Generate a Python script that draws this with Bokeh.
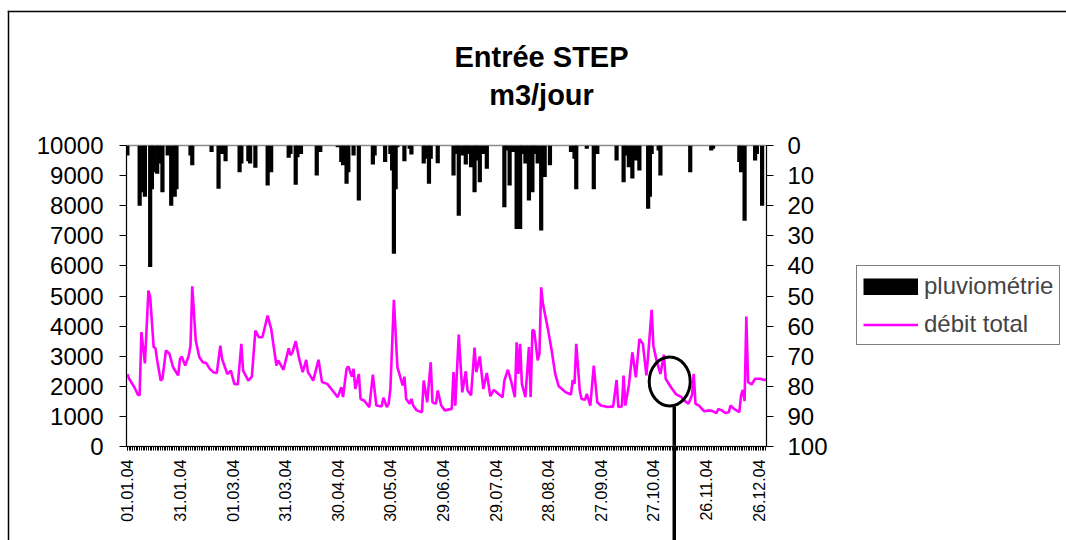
import math
from bokeh.plotting import figure
from bokeh.layouts import column
from bokeh.models import Range1d, LinearAxis, FixedTicker, Legend, LegendItem
from bokeh.core.properties import value
from bokeh.embed import file_html
from bokeh.resources import INLINE

# ---- data (day index from 01.01.2004) ----
flow_days = [0, 1, 4, 6, 7, 8, 10, 12, 13, 15, 16, 17, 19, 20, 22, 24, 26, 29, 30, 31,
             33, 35, 36, 37, 39, 41, 43, 45, 47, 49, 51, 53, 54, 57, 59, 61, 63, 65, 66, 69,
             71, 73, 75, 77, 80, 82, 85, 86, 89, 92, 93, 94, 96, 98, 100, 102, 103, 106, 109, 111,
             114, 117, 120, 122, 123, 125, 126, 128, 129, 130, 132, 133, 135, 138, 140, 142, 145, 146, 148, 149,
             150, 152, 154, 157, 158, 159, 161, 162, 163, 165, 168, 169, 171, 173, 174, 176, 177, 179, 181, 185,
             186, 187, 189, 191, 193, 194, 196, 198, 199, 201, 203, 205, 207, 209, 212, 214, 215, 217, 219, 221,
             222, 223, 224, 225, 227, 229, 230, 231, 232, 234, 235, 236, 237, 240, 242, 244, 246, 250, 253, 254,
             255, 256, 258, 259, 261, 262, 264, 266, 268, 270, 274, 276, 277, 279, 280, 282, 283, 284, 286, 288,
             290, 292, 294, 296, 297, 299, 300, 302, 304, 306, 307, 310, 313, 316, 318, 320, 322, 323, 324, 326,
             329, 332, 334, 336, 337, 339, 341, 343, 344, 346, 349, 350, 351, 352, 353, 354, 356, 358, 361, 363, 365]
flow_m3 = [2400, 2250, 1970, 1720, 1700, 3800, 2760, 5180, 4960, 3300, 3270, 2860, 2190, 2250, 3190, 3080, 2640, 2360, 2910, 2990,
           2690, 3020, 3350, 5320, 3520, 2970, 2800, 2770, 2580, 2470, 2440, 3350, 2910, 2410, 2520, 2080, 2060, 3410, 2520, 2190,
           2320, 3850, 3630, 3630, 4350, 3910, 2690, 2860, 2550, 3260, 3040, 3100, 3500, 2910, 2470, 2880, 2470, 2190, 2880, 2140,
           2080, 1860, 1640, 1970, 1640, 2580, 2660, 2320, 2580, 1910, 2410, 1580, 1530, 1310, 2390, 1360, 1330, 1620, 1310, 1420,
           1910, 4870, 2640, 2030, 2320, 1580, 1420, 1580, 1360, 1200, 1140, 2190, 1470, 2800, 1470, 1420, 1860, 1360, 1200, 1250,
           2470, 1360, 3720, 1800, 2500, 1860, 1700, 3290, 2470, 2990, 1910, 2440, 1670, 1880, 1730, 1640, 2190, 2550, 2140, 1640,
           3460, 2410, 3410, 2080, 1640, 3300, 1640, 3870, 3850, 2860, 3080, 5290, 4740, 3850, 3190, 2410, 2000, 1800, 1730, 2210,
           2080, 3410, 1860, 1580, 1550, 1750, 1360, 2690, 1470, 1360, 1310, 1330, 1310, 2210, 1310, 1330, 2360, 1360, 2030, 3130,
           2300, 3570, 3410, 2360, 3020, 4540, 3350, 2800, 2410, 3050, 2250, 1970, 1730, 1640, 1510, 1420, 1700, 2410, 1420, 1360,
           1170, 1200, 1170, 1110, 1250, 1200, 1110, 1140, 1360, 1250, 1140, 1700, 1880, 1510, 4320, 2140, 2060, 2250, 2250, 2210, 2230]

rain_days = [0, 7, 9, 10, 13, 14, 15, 17, 18, 20, 23, 25, 27, 28, 36, 37, 48, 52, 54, 56,
             64, 65, 69, 70, 73, 80, 82, 92, 93, 96, 97, 99, 108, 110, 120, 122, 123, 125, 126, 129,
             132, 140, 141, 147, 150, 151, 152, 153, 154, 158, 161, 162, 169, 170, 172, 173, 177, 186, 188, 189,
             191, 193, 194, 196, 198, 199, 201, 203, 205, 215, 216, 218, 220, 222, 224, 225, 227, 229, 231, 232,
             234, 236, 238, 241, 253, 255, 256, 262, 266, 268, 279, 283, 284, 286, 288, 290, 292, 297, 298, 299,
             303, 304, 321, 333, 334, 349, 350, 352, 358, 359, 362]
rain_mm = [3.3, 20, 15.5, 17, 40.4, 14.5, 8.9, 9.4, 6, 15.5, 3.3, 20, 17, 14.5, 3.3, 6.6, 2.2, 14.4, 2.8, 5.2,
           8.9, 6, 5.2, 6, 7.4, 13.3, 8.9, 4.1, 2.8, 13, 3.9, 2.8, 10, 2.2, 0.6, 5.5, 6.6, 12.7, 8.9, 3.3,
           18.3, 6.3, 3.3, 5.5, 2.8, 8.3, 36, 14.5, 0.6, 5.2, 1.1, 3, 6, 4.4, 12.7, 4.4, 5.9, 10, 2.8, 23.3,
           3.3, 6.3, 2.8, 7.2, 15.5, 5, 12.2, 2.8, 7.7, 20.5, 1.7, 13.3, 2.2, 27.7, 27.7, 2.8, 6, 18.3, 15.5, 2.8,
           6, 28.2, 10.5, 6.6, 2.2, 4.4, 14.5, 1.1, 14.5, 2.8, 5, 12.2, 3.3, 7.2, 11, 5, 8.3, 21, 17, 2.8,
           1.7, 10, 8.9, 1.7, 1.1, 5.5, 8.9, 25, 5, 2.8, 20]

tick_days = [0, 30, 60, 90, 120, 150, 180, 210, 240, 270, 300, 330, 360]
tick_labels = ["01.01.04", "31.01.04", "01.03.04", "31.03.04", "30.04.04", "30.05.04", "29.06.04",
               "29.07.04", "28.08.04", "27.09.04", "27.10.04", "26.11.04", "26.12.04"]
title_lines = ["Entrée STEP", "m3/jour"]
series_names = ["pluviométrie", "débit total"]

# annotation (circle + pointer line), chart data coordinates
mark_day, mark_flow = 309.3, 2160
pointer_day, pointer_top = 311.9, 1330

FONT = "Liberation Sans"
MAGENTA = "#FF00FF"
W, H = 1066, 540
FL, FR, FT, FB = 126, 766, 145, 446        # plot frame edges in page pixels
X0, X1, Y0, Y1 = -0.5, 364.5, 0, 10000     # chart ranges
BL, BT, BW = 8, 11, 1.5                    # chart-area border (left / top edges, thickness)

# ---------- background layer: chart-area border, title, legend, pointer ----------
bg = figure(width=W, height=H, output_backend="svg", toolbar_location=None,
            x_range=Range1d(0, W), y_range=Range1d(H, 0), min_border=0,
            x_axis_location=None, y_axis_location=None, frame_align=False,
            background_fill_color="white", border_fill_color="white")
bg.xgrid.visible = False
bg.ygrid.visible = False
bg.outline_line_color = None

px = FL + (pointer_day - X0) / (X1 - X0) * (FR - FL)
py = FB - (pointer_top - Y0) / (Y1 - Y0) * (FB - FT)
PW = 3.5
# border edges (left, top) and pointer line, drawn as thin filled bars
bg.quad(left=[BL - BW / 2, BL - BW / 2, px - PW / 2],
        right=[BL + BW / 2, W, px + PW / 2],
        top=[BT - BW / 2, BT - BW / 2, py],
        bottom=[H, BT + BW / 2, H],
        fill_color="black", line_color=None)
bg.text(x=[541, 541], y=[56, 94], text=title_lines, text_align="center",
        text_baseline="alphabetic", text_font=value(FONT), text_font_size="29px",
        text_font_style="bold", text_color="black")

# legend swatches: not drawn themselves, only their legend glyphs show
sw_rain = bg.line(x=[950, 960], y=[300, 300], line_color="black", line_width=17,
                  line_cap="butt", visible=False)
sw_flow = bg.line(x=[950, 960], y=[300, 300], line_color=MAGENTA, line_width=2.6, visible=False)
legend = Legend(items=[LegendItem(label=series_names[0], renderers=[sw_rain]),
                       LegendItem(label=series_names[1], renderers=[sw_flow])],
                location=(856, H - 345), glyph_width=55, glyph_height=17, label_standoff=6,
                label_text_font=FONT, label_text_font_size="24px", label_height=20,
                spacing=10, padding=6, margin=0, border_line_color="black",
                border_line_width=1.2, background_fill_color="white", background_fill_alpha=1,
                inactive_fill_alpha=0)
bg.add_layout(legend, "center")

# ---------- chart layer ----------
p = figure(width=W, height=H, output_backend="svg", toolbar_location=None,
           x_range=Range1d(X0, X1), y_range=Range1d(Y0, Y1), frame_align=False,
           min_border_left=FL, min_border_right=W - FR, min_border_top=FT, min_border_bottom=H - FB,
           background_fill_alpha=0, border_fill_alpha=0)
p.styles = {"position": "absolute", "top": "0px", "left": "0px", "z-index": "2"}
p.extra_y_ranges = {"rain": Range1d(100, 0)}
p.xgrid.visible = False
p.ygrid.visible = False
p.outline_line_color = "#8c8c8c"
p.outline_line_width = 1.5

p.vbar(x=rain_days, top=[0] * len(rain_days), bottom=rain_mm, width=2.4,
       y_range_name="rain", fill_color="black", line_color=None)
p.line(x=flow_days, y=flow_m3, line_color=MAGENTA, line_width=2.6)
p.ellipse(x=[mark_day], y=[mark_flow], width=41, height=49, width_units="screen",
          height_units="screen", fill_color=None, line_color="black", line_width=3)

xa = p.xaxis[0]
xa.ticker = FixedTicker(ticks=tick_days, minor_ticks=list(range(0, 366)))
xa.major_label_overrides = {d: s for d, s in zip(tick_days, tick_labels)}
xa.major_label_orientation = math.pi / 2
xa.major_label_text_font = FONT
xa.major_label_text_font_size = "16px"
xa.major_label_text_color = "black"
xa.major_label_standoff = 9
xa.major_tick_out = 4
xa.major_tick_in = 0
xa.minor_tick_out = 4
xa.minor_tick_in = 0
xa.minor_tick_line_color = "black"
xa.major_tick_line_color = "black"
xa.axis_line_color = "black"

ya = p.yaxis[0]
ya.ticker = FixedTicker(ticks=list(range(0, 10001, 1000)))
ya.major_label_text_font = FONT
ya.major_label_text_font_size = "24px"
ya.major_label_text_color = "black"
ya.major_tick_out = 7
ya.major_tick_in = 0
ya.minor_tick_line_color = None
ya.major_label_standoff = 16
ya.axis_line_color = "black"

ra = LinearAxis(y_range_name="rain", ticker=FixedTicker(ticks=list(range(0, 101, 10))))
ra.major_label_text_font = FONT
ra.major_label_text_font_size = "24px"
ra.major_label_text_color = "black"
ra.major_tick_out = 7
ra.major_tick_in = 0
ra.minor_tick_line_color = None
ra.major_label_standoff = 14
ra.axis_line_color = "black"
p.add_layout(ra, "right")

layout = column(bg, p)
open("out.html", "w").write(file_html(layout, INLINE))
